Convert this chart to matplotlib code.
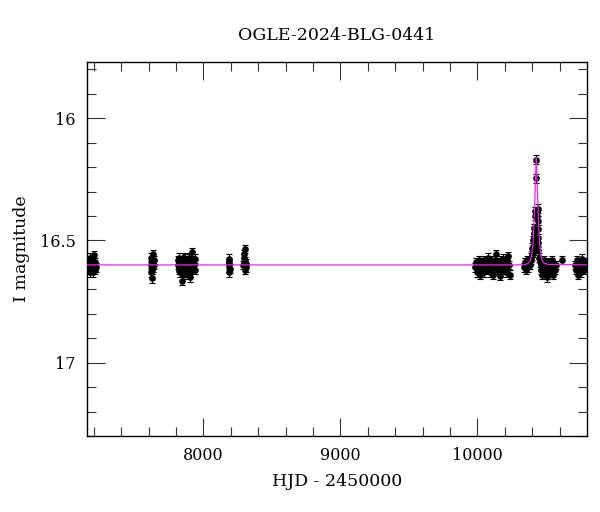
import matplotlib
matplotlib.use("Agg")
import matplotlib.pyplot as plt
import numpy as np

# ---------------- data ----------------
title = "OGLE-2024-BLG-0441"
xlabel = "HJD - 2450000"
ylabel = "I magnitude"

x_s1 = [7155, 7158, 7161, 7164, 7167, 7170, 7173, 7176, 7179, 7182, 7185, 7188,
        7191, 7194, 7197, 7200, 7204, 7208, 7212, 7216]
m_s1 = [16.61, 16.59, 16.62, 16.58, 16.60, 16.63, 16.57, 16.61, 16.60, 16.59,
        16.62, 16.58, 16.61, 16.60, 16.63, 16.56, 16.60, 16.62, 16.59, 16.61]

x_s2 = [7614, 7617, 7619, 7621, 7624, 7626, 7629, 7632, 7636, 7640]
m_s2 = [16.63, 16.60, 16.57, 16.62, 16.655, 16.59, 16.61, 16.555, 16.60, 16.58]

x_s3 = [7812, 7815, 7818, 7821, 7824, 7827, 7830, 7833, 7836, 7839, 7842, 7845,
        7848, 7851, 7854, 7857, 7860, 7863, 7866, 7869, 7872, 7875, 7878, 7881,
        7884, 7887, 7890, 7893, 7896, 7899, 7902, 7905, 7908, 7911, 7914, 7917,
        7920, 7923, 7927, 7931, 7935, 7939]
m_s3 = [16.60, 16.58, 16.62, 16.57, 16.61, 16.63, 16.59, 16.60, 16.58, 16.62,
        16.665, 16.60, 16.57, 16.64, 16.59, 16.61, 16.58, 16.62, 16.60, 16.575,
        16.63, 16.59, 16.61, 16.60, 16.64, 16.58, 16.62, 16.57, 16.60, 16.63,
        16.65, 16.61, 16.575, 16.60, 16.62, 16.58, 16.548, 16.61, 16.59, 16.60,
        16.575, 16.62]

x_s4 = [8183, 8185, 8187, 8189, 8191]
m_s4 = [16.60, 16.575, 16.63, 16.59, 16.615]

x_s5 = [8292, 8295, 8298, 8301, 8304, 8307, 8310, 8313]
m_s5 = [16.60, 16.57, 16.555, 16.62, 16.585, 16.535, 16.61, 16.595]

x_s6 = [9985, 9991, 9997, 10003, 10009, 10015, 10021, 10027, 10033, 10039,
        10045, 10051, 10057, 10063, 10069, 10075, 10081, 10087, 10093, 10099,
        10105, 10111, 10117, 10123, 10129, 10135, 10141, 10147, 10153, 10159,
        10165, 10171, 10177, 10183, 10189, 10195, 10201, 10207, 10213, 10219,
        10225, 10231, 10237]
m_s6 = [16.61, 16.59, 16.63, 16.60, 16.58, 16.62, 16.64, 16.60, 16.59, 16.61,
        16.63, 16.58, 16.60, 16.62, 16.59, 16.61, 16.57, 16.60, 16.63, 16.58,
        16.61, 16.59, 16.64, 16.60, 16.58, 16.557, 16.62, 16.60, 16.59, 16.61,
        16.645, 16.58, 16.60, 16.62, 16.575, 16.61, 16.59, 16.63, 16.60, 16.58,
        16.565, 16.60, 16.64]

x_s7 = [10340, 10346, 10352, 10358, 10364, 10370, 10376, 10382, 10388, 10394,
        10398, 10402, 10405, 10408, 10410, 10412, 10414, 10416, 10419, 10422,
        10426, 10430, 10436, 10438, 10440, 10441, 10442, 10443, 10444, 10446,
        10450, 10455, 10461, 10467, 10473, 10479, 10485, 10491, 10497, 10503,
        10509, 10515, 10521, 10527, 10533, 10539, 10545, 10551, 10557, 10563,
        10569, 10575, 10618]
m_s7 = [16.61, 16.59, 16.62, 16.60, 16.58, 16.61, 16.59, 16.60, 16.57, 16.58,
        16.56, 16.53, 16.55, 16.50, 16.52, 16.47, 16.45, 16.49, 16.40, 16.38,
        16.245, 16.17, 16.38, 16.40, 16.37, 16.42, 16.455, 16.49, 16.51, 16.54,
        16.57, 16.59, 16.62, 16.60, 16.64, 16.61, 16.58, 16.63, 16.60, 16.62,
        16.65, 16.59, 16.61, 16.63, 16.60, 16.62, 16.58, 16.64, 16.61, 16.60,
        16.62, 16.60, 16.58]

x_s8 = [10712, 10718, 10724, 10730, 10736, 10742, 10748, 10754, 10760, 10766,
        10772, 10778, 10784, 10790]
m_s8 = [16.60, 16.62, 16.58, 16.61, 16.64, 16.59, 16.60, 16.63, 16.575, 16.61,
        16.60, 16.62, 16.59, 16.61]

mag_err = 0.018

# model curve
model_x = [7150, 10300, 10350, 10370, 10385, 10395, 10405, 10412, 10418, 10423,
           10427, 10430, 10433, 10437, 10442, 10448, 10455, 10465, 10475, 10490,
           10520, 10800]
model_m = [16.600, 16.600, 16.598, 16.594, 16.585, 16.565, 16.52, 16.45, 16.36,
           16.27, 16.20, 16.16, 16.20, 16.27, 16.36, 16.45, 16.52, 16.565,
           16.585, 16.594, 16.598, 16.600]

x_ticks = [8000, 9000, 10000]
y_ticks = [16, 16.5, 17]
y_ticklabels = ["16", "16.5", "17"]

# ---------------- plot ----------------
plt.rcParams['font.family'] = ['DejaVu Serif']
fig = plt.figure(figsize=(6.0, 5.12), dpi=100)
ax = fig.add_axes([0.145, 0.1484, 0.8333, 0.7305])

hjd = np.array(x_s1 + x_s2 + x_s3 + x_s4 + x_s5 + x_s6 + x_s7 + x_s8, dtype=float)
mag = np.array(m_s1 + m_s2 + m_s3 + m_s4 + m_s5 + m_s6 + m_s7 + m_s8, dtype=float)

ax.errorbar(hjd, mag, yerr=mag_err, fmt='o', color='black', ms=3.8,
            capsize=2.4, elinewidth=0.8, capthick=0.8, zorder=2)
ax.plot(model_x, model_m, color='#ee22ee', lw=0.9, zorder=3)

ax.set_xlim(7150, 10800)
ax.set_ylim(17.3, 15.77)

ax.set_xticks(x_ticks)
ax.set_xticks(np.arange(7200, 10800, 200), minor=True)
ax.set_yticks(y_ticks)
ax.set_yticklabels(y_ticklabels)
ax.set_yticks(np.arange(15.8, 17.31, 0.1), minor=True)

ax.tick_params(which='both', direction='in', top=True, right=True,
               labelsize=11.5, width=0.8, color='#333333')
ax.tick_params(which='major', length=13, pad=8)
ax.tick_params(which='minor', length=6.5)
for s in ax.spines.values():
    s.set_linewidth(1.0)

ax.set_title(title, fontsize=12.5, pad=16)
ax.set_xlabel(xlabel, fontsize=12.5)
ax.xaxis.set_label_coords(0.5, -0.1)
ax.set_ylabel(ylabel, fontsize=12.5)
ax.yaxis.set_label_coords(-0.115, 0.5)

fig.savefig("out.png", dpi=100)
